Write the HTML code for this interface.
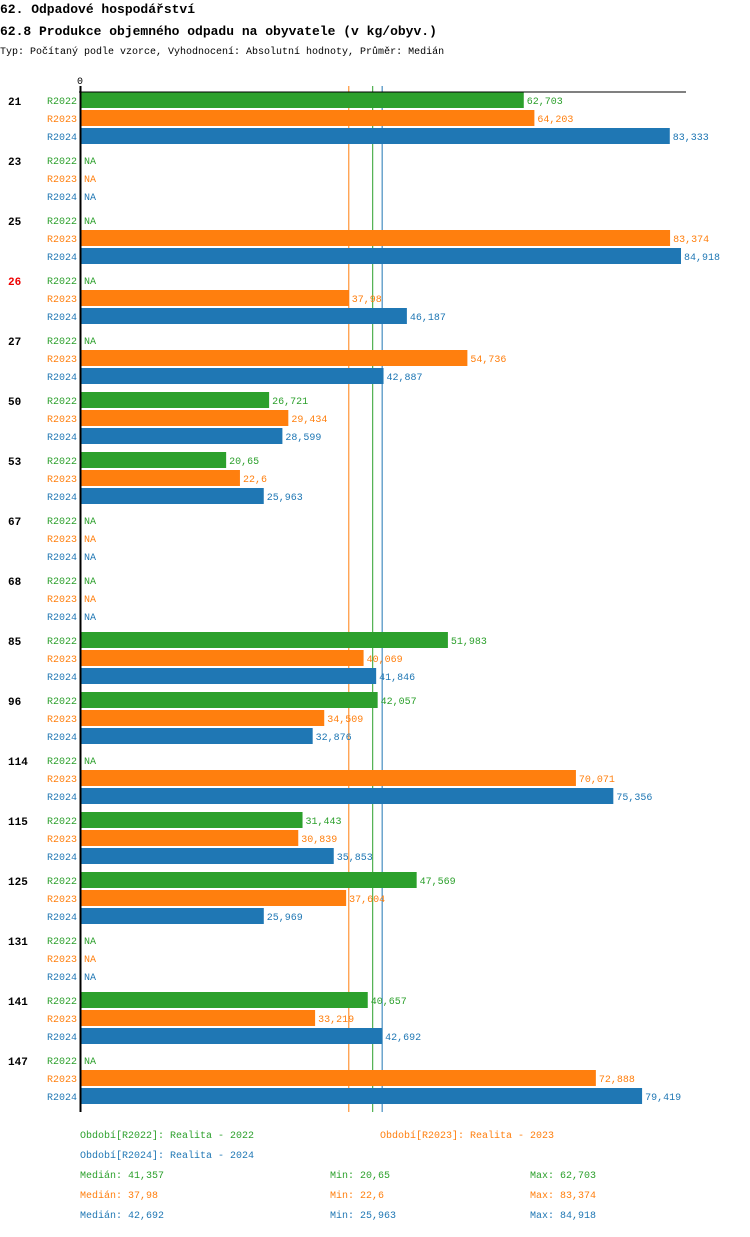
<!DOCTYPE html>
<html><head><meta charset="utf-8">
<style>
body{margin:0;background:#fff;width:750px;height:1232px;overflow:hidden;font-family:"Liberation Mono","DejaVu Sans Mono",monospace;}
svg text{font-family:"Liberation Mono","DejaVu Sans Mono",monospace;}
</style></head>
<body>
<svg id="chart" width="750" height="1232" xmlns="http://www.w3.org/2000/svg">
<text x="0" y="13" font-size="13" font-weight="bold">62. Odpadové hospodářství</text>
<text x="0" y="35" font-size="13" font-weight="bold">62.8 Produkce objemného odpadu na obyvatele (v kg/obyv.)</text>
<text x="0" y="54" font-size="10">Typ: Počítaný podle vzorce, Vyhodnocení: Absolutní hodnoty, Průměr: Medián</text>
<text x="77" y="84" font-size="10">0</text>
<g id="medians"></g>
<g id="bars"></g>
<line x1="79" y1="92" x2="686" y2="92" stroke="#000" stroke-width="1"/>
<line x1="80.5" y1="86" x2="80.5" y2="1112" stroke="#000" stroke-width="2"/>
<g id="legend" font-size="10">
<text x="80" y="1138" fill="#2ca02c">Období[R2022]: Realita - 2022</text>
<text x="380" y="1138" fill="#ff7f0e">Období[R2023]: Realita - 2023</text>
<text x="80" y="1158" fill="#1f77b4">Období[R2024]: Realita - 2024</text>
</g>
<g id="stats" font-size="10"></g>
</svg>
<script>
const categories=["21","23","25","26","27","50","53","67","68","85","96","114","115","125","131","141","147"];
const highlighted=["26"];
const seriesNames=["R2022","R2023","R2024"];
const r2022=[62.703,null,null,null,null,26.721,20.65,null,null,51.983,42.057,null,31.443,47.569,null,40.657,null];
const r2023=[64.203,null,83.374,37.98,54.736,29.434,22.6,null,null,40.069,34.509,70.071,30.839,37.604,null,33.219,72.888];
const r2024=[83.333,null,84.918,46.187,42.887,28.599,25.963,null,null,41.846,32.876,75.356,35.853,25.969,null,42.692,79.419];
const medians=[41.357,37.98,42.692];
const mins=[20.65,22.6,25.963];
const maxs=[62.703,83.374,84.918];
const colors=["#2ca02c","#ff7f0e","#1f77b4"];
const NS="http://www.w3.org/2000/svg";
const x0=80, scale=601/84.918;
function xs(v){return x0+v*scale;}
function gy(i){return 92+i*60;}
function fmt(v){return String(v).replace('.',',');}
function mk(tag,attrs,parent,txt){const e=document.createElementNS(NS,tag);for(const k in attrs)e.setAttribute(k,attrs[k]);if(txt!==undefined)e.textContent=txt;parent.appendChild(e);return e;}
const bars=document.getElementById('bars');
const series=[r2022,r2023,r2024];
categories.forEach((c,i)=>{
  const y=gy(i);
  const lab=mk('text',{x:8,y:y+13,'font-size':11,'font-weight':'bold',fill:highlighted.includes(c)?'#e00':'#000'},bars,c);
  
  
  series.forEach((s,j)=>{
    const by=y+j*18;
    const sl=mk('text',{x:47,y:by+12,'font-size':10,fill:colors[j]},bars,seriesNames[j]);
    
    
    const v=s[i];
    if(v===null){
      const na=mk('text',{x:84,y:by+12,'font-size':10,fill:colors[j]},bars,'NA');
      
      
    }else{
      const r=mk('rect',{x:x0,y:by,width:xs(v)-x0,height:16,fill:colors[j]},bars);
      
      
      const vl=mk('text',{x:xs(v)+3,y:by+12,'font-size':10,fill:colors[j]},bars,fmt(v));
      
      
    }
  });
});
const med=document.getElementById('medians');
medians.forEach((m,j)=>{
  const l=mk('line',{x1:xs(m),x2:xs(m),y1:86,y2:1112,stroke:colors[j],'stroke-width':1},med);
  
  
});
const st=document.getElementById('stats');
medians.forEach((m,j)=>{
  const y=1178+j*20;
  const a=mk('text',{x:80,y:y,fill:colors[j]},st,'Medián: '+fmt(m));
  
  
  const b=mk('text',{x:330,y:y,fill:colors[j]},st,'Min: '+fmt(mins[j]));
  
  
  const c=mk('text',{x:530,y:y,fill:colors[j]},st,'Max: '+fmt(maxs[j]));
  
  
});
</script>
</body></html>
